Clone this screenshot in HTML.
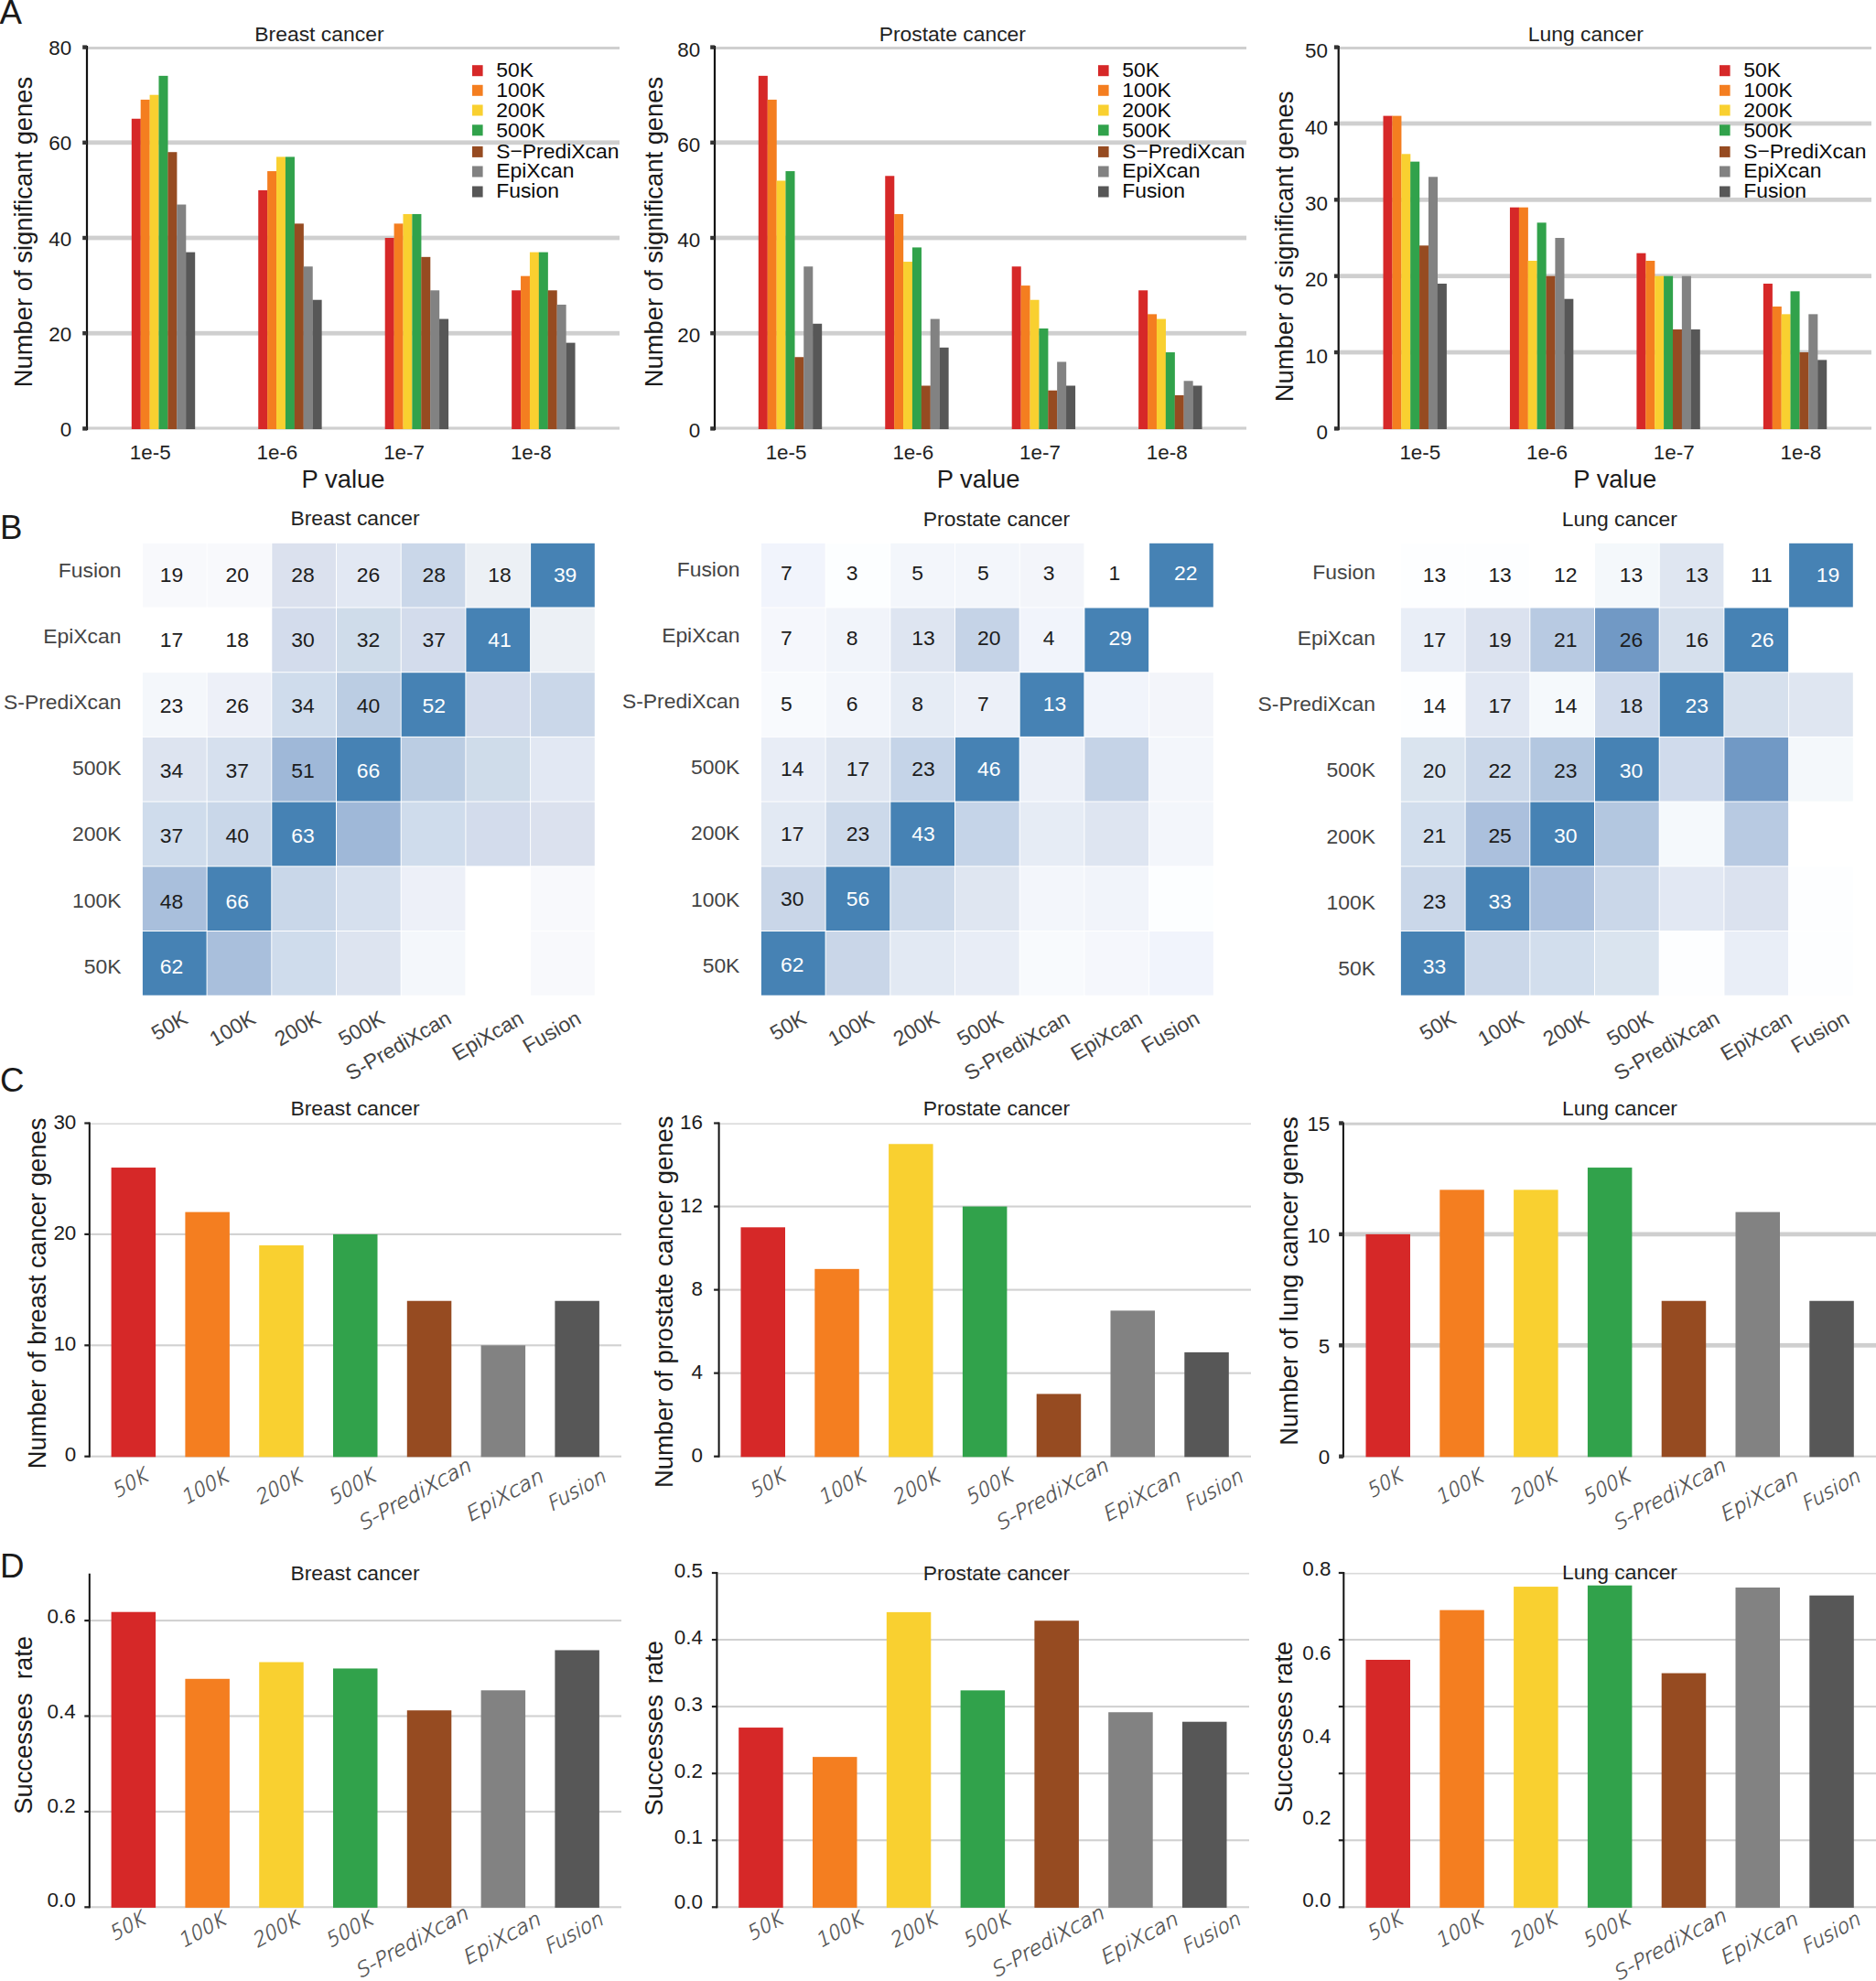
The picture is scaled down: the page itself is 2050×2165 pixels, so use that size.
<!DOCTYPE html>
<html lang="en"><head><meta charset="utf-8"><title>Figure</title>
<style>
html,body{margin:0;padding:0;background:#fff;}
body{width:2050px;height:2165px;overflow:hidden;}
svg{display:block;font-family:"Liberation Sans",sans-serif;}
</style></head><body>
<svg width="2050" height="2165" viewBox="0 0 2050 2165">
<rect x="0" y="0" width="2050" height="2165" fill="#ffffff"/>
<text x="-0.5" y="26.4" font-size="36.7" fill="#1a1a1a" text-anchor="start">A</text>
<text x="0" y="588.5" font-size="36.7" fill="#1a1a1a" text-anchor="start">B</text>
<text x="0" y="1193" font-size="36.7" fill="#1a1a1a" text-anchor="start">C</text>
<text x="0" y="1724" font-size="36.7" fill="#1a1a1a" text-anchor="start">D</text>
<rect x="95" y="466.4" width="582" height="3.2" fill="#cfcfcf"/>
<rect x="95" y="361.8" width="582" height="4.8" fill="#cfcfcf"/>
<rect x="95" y="257.6" width="582" height="4.8" fill="#cfcfcf"/>
<rect x="95" y="153.4" width="582" height="4.8" fill="#cfcfcf"/>
<rect x="95" y="51" width="582" height="3" fill="#cfcfcf"/>
<rect x="143.8" y="129.75" width="10.04" height="339.25" fill="#d62828"/>
<rect x="153.69" y="108.91" width="10.04" height="360.09" fill="#f47e20"/>
<rect x="163.58" y="103.7" width="10.04" height="365.3" fill="#f9d030"/>
<rect x="173.47" y="82.86" width="10.04" height="386.14" fill="#31a24b"/>
<rect x="183.36" y="166.22" width="10.04" height="302.78" fill="#964b21"/>
<rect x="193.25" y="223.53" width="10.04" height="245.47" fill="#828282"/>
<rect x="203.14" y="275.63" width="10.04" height="193.37" fill="#575757"/>
<rect x="282.25" y="207.9" width="10.04" height="261.1" fill="#d62828"/>
<rect x="292.14" y="187.06" width="10.04" height="281.94" fill="#f47e20"/>
<rect x="302.03" y="171.43" width="10.04" height="297.57" fill="#f9d030"/>
<rect x="311.92" y="171.43" width="10.04" height="297.57" fill="#31a24b"/>
<rect x="321.81" y="244.37" width="10.04" height="224.63" fill="#964b21"/>
<rect x="331.7" y="291.26" width="10.04" height="177.74" fill="#828282"/>
<rect x="341.59" y="327.73" width="10.04" height="141.27" fill="#575757"/>
<rect x="420.7" y="260" width="10.04" height="209" fill="#d62828"/>
<rect x="430.59" y="244.37" width="10.04" height="224.63" fill="#f47e20"/>
<rect x="440.48" y="233.95" width="10.04" height="235.05" fill="#f9d030"/>
<rect x="450.37" y="233.95" width="10.04" height="235.05" fill="#31a24b"/>
<rect x="460.26" y="280.84" width="10.04" height="188.16" fill="#964b21"/>
<rect x="470.15" y="317.31" width="10.04" height="151.69" fill="#828282"/>
<rect x="480.04" y="348.57" width="10.04" height="120.43" fill="#575757"/>
<rect x="559.15" y="317.31" width="10.04" height="151.69" fill="#d62828"/>
<rect x="569.04" y="301.68" width="10.04" height="167.32" fill="#f47e20"/>
<rect x="578.93" y="275.63" width="10.04" height="193.37" fill="#f9d030"/>
<rect x="588.82" y="275.63" width="10.04" height="193.37" fill="#31a24b"/>
<rect x="598.71" y="317.31" width="10.04" height="151.69" fill="#964b21"/>
<rect x="608.6" y="332.94" width="10.04" height="136.06" fill="#828282"/>
<rect x="618.49" y="374.62" width="10.04" height="94.38" fill="#575757"/>
<rect x="93.9" y="50" width="2.2" height="420.2" fill="#111"/>
<rect x="90.2" y="466.2" width="4.8" height="4.4" fill="#333"/>
<text x="78.2" y="477" font-size="22.4" fill="#1c1c1c" text-anchor="end">0</text>
<rect x="90.2" y="362" width="4.8" height="4.4" fill="#333"/>
<text x="78.2" y="372.8" font-size="22.4" fill="#1c1c1c" text-anchor="end">20</text>
<rect x="90.2" y="257.8" width="4.8" height="4.4" fill="#333"/>
<text x="78.2" y="268.6" font-size="22.4" fill="#1c1c1c" text-anchor="end">40</text>
<rect x="90.2" y="153.6" width="4.8" height="4.4" fill="#333"/>
<text x="78.2" y="164.4" font-size="22.4" fill="#1c1c1c" text-anchor="end">60</text>
<rect x="90.2" y="49.4" width="4.8" height="4.4" fill="#333"/>
<text x="78.2" y="60.2" font-size="22.4" fill="#1c1c1c" text-anchor="end">80</text>
<text x="164.2" y="501.9" font-size="22.4" fill="#222" text-anchor="middle">1e-5</text>
<text x="302.9" y="501.9" font-size="22.4" fill="#222" text-anchor="middle">1e-6</text>
<text x="441.6" y="501.9" font-size="22.4" fill="#222" text-anchor="middle">1e-7</text>
<text x="580.3" y="501.9" font-size="22.4" fill="#222" text-anchor="middle">1e-8</text>
<text x="375" y="532.8" font-size="27.4" fill="#1c1c1c" text-anchor="middle">P value</text>
<text x="0" y="0" transform="translate(34.5 253.5) rotate(-90)" font-size="27.4" fill="#1c1c1c" text-anchor="middle">Number of significant genes</text>
<text x="348.9" y="44.8" font-size="22.9" fill="#222" text-anchor="middle">Breast cancer</text>
<rect x="516" y="71.2" width="11.6" height="12" fill="#d62828"/>
<text x="542.2" y="84" font-size="22.9" fill="#0c0c0c" text-anchor="start">50K</text>
<rect x="516" y="92.8" width="11.6" height="12" fill="#f47e20"/>
<text x="542.2" y="106" font-size="22.9" fill="#0c0c0c" text-anchor="start">100K</text>
<rect x="516" y="114.5" width="11.6" height="12" fill="#f9d030"/>
<text x="542.2" y="127.9" font-size="22.9" fill="#0c0c0c" text-anchor="start">200K</text>
<rect x="516" y="136.3" width="11.6" height="12" fill="#31a24b"/>
<text x="542.2" y="149.5" font-size="22.9" fill="#0c0c0c" text-anchor="start">500K</text>
<rect x="516" y="159.9" width="11.6" height="12" fill="#964b21"/>
<text x="542.2" y="172.7" font-size="22.9" fill="#0c0c0c" text-anchor="start">S−PrediXcan</text>
<rect x="516" y="181.5" width="11.6" height="12" fill="#828282"/>
<text x="542.2" y="194.3" font-size="22.9" fill="#0c0c0c" text-anchor="start">EpiXcan</text>
<rect x="516" y="203.5" width="11.6" height="12" fill="#575757"/>
<text x="542.2" y="215.9" font-size="22.9" fill="#0c0c0c" text-anchor="start">Fusion</text>
<rect x="781" y="466.4" width="581" height="3.2" fill="#cfcfcf"/>
<rect x="781" y="361.8" width="581" height="4.8" fill="#cfcfcf"/>
<rect x="781" y="257.6" width="581" height="4.8" fill="#cfcfcf"/>
<rect x="781" y="153.4" width="581" height="4.8" fill="#cfcfcf"/>
<rect x="781" y="51" width="581" height="3" fill="#cfcfcf"/>
<rect x="828.8" y="82.86" width="10.04" height="386.14" fill="#d62828"/>
<rect x="838.69" y="108.91" width="10.04" height="360.09" fill="#f47e20"/>
<rect x="848.58" y="197.48" width="10.04" height="271.52" fill="#f9d030"/>
<rect x="858.47" y="187.06" width="10.04" height="281.94" fill="#31a24b"/>
<rect x="868.36" y="390.25" width="10.04" height="78.75" fill="#964b21"/>
<rect x="878.25" y="291.26" width="10.04" height="177.74" fill="#828282"/>
<rect x="888.14" y="353.78" width="10.04" height="115.22" fill="#575757"/>
<rect x="967.25" y="192.27" width="10.04" height="276.73" fill="#d62828"/>
<rect x="977.14" y="233.95" width="10.04" height="235.05" fill="#f47e20"/>
<rect x="987.03" y="286.05" width="10.04" height="182.95" fill="#f9d030"/>
<rect x="996.92" y="270.42" width="10.04" height="198.58" fill="#31a24b"/>
<rect x="1006.81" y="421.51" width="10.04" height="47.49" fill="#964b21"/>
<rect x="1016.7" y="348.57" width="10.04" height="120.43" fill="#828282"/>
<rect x="1026.59" y="379.83" width="10.04" height="89.17" fill="#575757"/>
<rect x="1105.7" y="291.26" width="10.04" height="177.74" fill="#d62828"/>
<rect x="1115.59" y="312.1" width="10.04" height="156.9" fill="#f47e20"/>
<rect x="1125.48" y="327.73" width="10.04" height="141.27" fill="#f9d030"/>
<rect x="1135.37" y="358.99" width="10.04" height="110.01" fill="#31a24b"/>
<rect x="1145.26" y="426.72" width="10.04" height="42.28" fill="#964b21"/>
<rect x="1155.15" y="395.46" width="10.04" height="73.54" fill="#828282"/>
<rect x="1165.04" y="421.51" width="10.04" height="47.49" fill="#575757"/>
<rect x="1244.15" y="317.31" width="10.04" height="151.69" fill="#d62828"/>
<rect x="1254.04" y="343.36" width="10.04" height="125.64" fill="#f47e20"/>
<rect x="1263.93" y="348.57" width="10.04" height="120.43" fill="#f9d030"/>
<rect x="1273.82" y="385.04" width="10.04" height="83.96" fill="#31a24b"/>
<rect x="1283.71" y="431.93" width="10.04" height="37.07" fill="#964b21"/>
<rect x="1293.6" y="416.3" width="10.04" height="52.7" fill="#828282"/>
<rect x="1303.49" y="421.51" width="10.04" height="47.49" fill="#575757"/>
<rect x="779.9" y="50" width="2.2" height="420.2" fill="#111"/>
<rect x="776.2" y="466.2" width="4.8" height="4.4" fill="#333"/>
<text x="765.2" y="478.4" font-size="22.4" fill="#1c1c1c" text-anchor="end">0</text>
<rect x="776.2" y="362" width="4.8" height="4.4" fill="#333"/>
<text x="765.2" y="374.2" font-size="22.4" fill="#1c1c1c" text-anchor="end">20</text>
<rect x="776.2" y="257.8" width="4.8" height="4.4" fill="#333"/>
<text x="765.2" y="270" font-size="22.4" fill="#1c1c1c" text-anchor="end">40</text>
<rect x="776.2" y="153.6" width="4.8" height="4.4" fill="#333"/>
<text x="765.2" y="165.8" font-size="22.4" fill="#1c1c1c" text-anchor="end">60</text>
<rect x="776.2" y="49.4" width="4.8" height="4.4" fill="#333"/>
<text x="765.2" y="61.6" font-size="22.4" fill="#1c1c1c" text-anchor="end">80</text>
<text x="859.1" y="501.9" font-size="22.4" fill="#222" text-anchor="middle">1e-5</text>
<text x="997.8" y="501.9" font-size="22.4" fill="#222" text-anchor="middle">1e-6</text>
<text x="1136.5" y="501.9" font-size="22.4" fill="#222" text-anchor="middle">1e-7</text>
<text x="1275.2" y="501.9" font-size="22.4" fill="#222" text-anchor="middle">1e-8</text>
<text x="1069.1" y="532.8" font-size="27.4" fill="#1c1c1c" text-anchor="middle">P value</text>
<text x="0" y="0" transform="translate(724 253.5) rotate(-90)" font-size="27.4" fill="#1c1c1c" text-anchor="middle">Number of significant genes</text>
<text x="1040.8" y="44.8" font-size="22.9" fill="#222" text-anchor="middle">Prostate cancer</text>
<rect x="1200" y="71.2" width="11.6" height="12" fill="#d62828"/>
<text x="1226.2" y="84" font-size="22.9" fill="#0c0c0c" text-anchor="start">50K</text>
<rect x="1200" y="92.8" width="11.6" height="12" fill="#f47e20"/>
<text x="1226.2" y="106" font-size="22.9" fill="#0c0c0c" text-anchor="start">100K</text>
<rect x="1200" y="114.5" width="11.6" height="12" fill="#f9d030"/>
<text x="1226.2" y="127.9" font-size="22.9" fill="#0c0c0c" text-anchor="start">200K</text>
<rect x="1200" y="136.3" width="11.6" height="12" fill="#31a24b"/>
<text x="1226.2" y="149.5" font-size="22.9" fill="#0c0c0c" text-anchor="start">500K</text>
<rect x="1200" y="159.9" width="11.6" height="12" fill="#964b21"/>
<text x="1226.2" y="172.7" font-size="22.9" fill="#0c0c0c" text-anchor="start">S−PrediXcan</text>
<rect x="1200" y="181.5" width="11.6" height="12" fill="#828282"/>
<text x="1226.2" y="194.3" font-size="22.9" fill="#0c0c0c" text-anchor="start">EpiXcan</text>
<rect x="1200" y="203.5" width="11.6" height="12" fill="#575757"/>
<text x="1226.2" y="215.9" font-size="22.9" fill="#0c0c0c" text-anchor="start">Fusion</text>
<rect x="1462.7" y="466.4" width="582.3" height="3.2" fill="#cfcfcf"/>
<rect x="1462.7" y="382.64" width="582.3" height="4.8" fill="#cfcfcf"/>
<rect x="1462.7" y="299.28" width="582.3" height="4.8" fill="#cfcfcf"/>
<rect x="1462.7" y="215.92" width="582.3" height="4.8" fill="#cfcfcf"/>
<rect x="1462.7" y="132.56" width="582.3" height="4.8" fill="#cfcfcf"/>
<rect x="1462.7" y="51" width="582.3" height="3" fill="#cfcfcf"/>
<rect x="1511.5" y="126.62" width="10.04" height="342.38" fill="#d62828"/>
<rect x="1521.39" y="126.62" width="10.04" height="342.38" fill="#f47e20"/>
<rect x="1531.28" y="168.3" width="10.04" height="300.7" fill="#f9d030"/>
<rect x="1541.17" y="176.64" width="10.04" height="292.36" fill="#31a24b"/>
<rect x="1551.06" y="268.34" width="10.04" height="200.66" fill="#964b21"/>
<rect x="1560.95" y="193.31" width="10.04" height="275.69" fill="#828282"/>
<rect x="1570.84" y="310.02" width="10.04" height="158.98" fill="#575757"/>
<rect x="1649.95" y="226.66" width="10.04" height="242.34" fill="#d62828"/>
<rect x="1659.84" y="226.66" width="10.04" height="242.34" fill="#f47e20"/>
<rect x="1669.73" y="285.01" width="10.04" height="183.99" fill="#f9d030"/>
<rect x="1679.62" y="243.33" width="10.04" height="225.67" fill="#31a24b"/>
<rect x="1689.51" y="301.68" width="10.04" height="167.32" fill="#964b21"/>
<rect x="1699.4" y="260" width="10.04" height="209" fill="#828282"/>
<rect x="1709.29" y="326.69" width="10.04" height="142.31" fill="#575757"/>
<rect x="1788.4" y="276.67" width="10.04" height="192.33" fill="#d62828"/>
<rect x="1798.29" y="285.01" width="10.04" height="183.99" fill="#f47e20"/>
<rect x="1808.18" y="301.68" width="10.04" height="167.32" fill="#f9d030"/>
<rect x="1818.07" y="301.68" width="10.04" height="167.32" fill="#31a24b"/>
<rect x="1827.96" y="360.03" width="10.04" height="108.97" fill="#964b21"/>
<rect x="1837.85" y="301.68" width="10.04" height="167.32" fill="#828282"/>
<rect x="1847.74" y="360.03" width="10.04" height="108.97" fill="#575757"/>
<rect x="1926.85" y="310.02" width="10.04" height="158.98" fill="#d62828"/>
<rect x="1936.74" y="335.02" width="10.04" height="133.98" fill="#f47e20"/>
<rect x="1946.63" y="343.36" width="10.04" height="125.64" fill="#f9d030"/>
<rect x="1956.52" y="318.35" width="10.04" height="150.65" fill="#31a24b"/>
<rect x="1966.41" y="385.04" width="10.04" height="83.96" fill="#964b21"/>
<rect x="1976.3" y="343.36" width="10.04" height="125.64" fill="#828282"/>
<rect x="1986.19" y="393.38" width="10.04" height="75.62" fill="#575757"/>
<rect x="1461.6" y="50" width="2.2" height="420.2" fill="#111"/>
<rect x="1457.9" y="466.2" width="4.8" height="4.4" fill="#333"/>
<text x="1451" y="480.2" font-size="22.4" fill="#1c1c1c" text-anchor="end">0</text>
<rect x="1457.9" y="382.84" width="4.8" height="4.4" fill="#333"/>
<text x="1451" y="396.84" font-size="22.4" fill="#1c1c1c" text-anchor="end">10</text>
<rect x="1457.9" y="299.48" width="4.8" height="4.4" fill="#333"/>
<text x="1451" y="313.48" font-size="22.4" fill="#1c1c1c" text-anchor="end">20</text>
<rect x="1457.9" y="216.12" width="4.8" height="4.4" fill="#333"/>
<text x="1451" y="230.12" font-size="22.4" fill="#1c1c1c" text-anchor="end">30</text>
<rect x="1457.9" y="132.76" width="4.8" height="4.4" fill="#333"/>
<text x="1451" y="146.76" font-size="22.4" fill="#1c1c1c" text-anchor="end">40</text>
<rect x="1457.9" y="49.4" width="4.8" height="4.4" fill="#333"/>
<text x="1451" y="63.4" font-size="22.4" fill="#1c1c1c" text-anchor="end">50</text>
<text x="1551.8" y="501.9" font-size="22.4" fill="#222" text-anchor="middle">1e-5</text>
<text x="1690.5" y="501.9" font-size="22.4" fill="#222" text-anchor="middle">1e-6</text>
<text x="1829.2" y="501.9" font-size="22.4" fill="#222" text-anchor="middle">1e-7</text>
<text x="1967.9" y="501.9" font-size="22.4" fill="#222" text-anchor="middle">1e-8</text>
<text x="1764.7" y="532.8" font-size="27.4" fill="#1c1c1c" text-anchor="middle">P value</text>
<text x="0" y="0" transform="translate(1413.4 269.4) rotate(-90)" font-size="27.4" fill="#1c1c1c" text-anchor="middle">Number of significant genes</text>
<text x="1732.8" y="44.8" font-size="22.9" fill="#222" text-anchor="middle">Lung cancer</text>
<rect x="1879" y="71.2" width="11.6" height="12" fill="#d62828"/>
<text x="1905.2" y="84" font-size="22.9" fill="#0c0c0c" text-anchor="start">50K</text>
<rect x="1879" y="92.8" width="11.6" height="12" fill="#f47e20"/>
<text x="1905.2" y="106" font-size="22.9" fill="#0c0c0c" text-anchor="start">100K</text>
<rect x="1879" y="114.5" width="11.6" height="12" fill="#f9d030"/>
<text x="1905.2" y="127.9" font-size="22.9" fill="#0c0c0c" text-anchor="start">200K</text>
<rect x="1879" y="136.3" width="11.6" height="12" fill="#31a24b"/>
<text x="1905.2" y="149.5" font-size="22.9" fill="#0c0c0c" text-anchor="start">500K</text>
<rect x="1879" y="159.9" width="11.6" height="12" fill="#964b21"/>
<text x="1905.2" y="172.7" font-size="22.9" fill="#0c0c0c" text-anchor="start">S−PrediXcan</text>
<rect x="1879" y="181.5" width="11.6" height="12" fill="#828282"/>
<text x="1905.2" y="194.3" font-size="22.9" fill="#0c0c0c" text-anchor="start">EpiXcan</text>
<rect x="1879" y="203.5" width="11.6" height="12" fill="#575757"/>
<text x="1905.2" y="215.9" font-size="22.9" fill="#0c0c0c" text-anchor="start">Fusion</text>
<rect x="155.9" y="1018" width="69.7" height="69.7" fill="#4682b4"/>
<rect x="226.6" y="1018" width="69.7" height="69.7" fill="#a9bfdc"/>
<rect x="297.3" y="1018" width="69.7" height="69.7" fill="#cfdcec"/>
<rect x="368" y="1018" width="69.7" height="69.7" fill="#dde4f0"/>
<rect x="438.7" y="1018" width="69.7" height="69.7" fill="#f4f7fb"/>
<rect x="509.4" y="1018" width="69.7" height="69.7" fill="#ffffff"/>
<rect x="580.1" y="1018" width="69.7" height="69.7" fill="#f8f9fc"/>
<rect x="155.9" y="947.3" width="69.7" height="69.7" fill="#a9bfdc"/>
<rect x="226.6" y="947.3" width="69.7" height="69.7" fill="#4682b4"/>
<rect x="297.3" y="947.3" width="69.7" height="69.7" fill="#c9d7e9"/>
<rect x="368" y="947.3" width="69.7" height="69.7" fill="#d6e0ee"/>
<rect x="438.7" y="947.3" width="69.7" height="69.7" fill="#edf0f8"/>
<rect x="509.4" y="947.3" width="69.7" height="69.7" fill="#ffffff"/>
<rect x="580.1" y="947.3" width="69.7" height="69.7" fill="#f8f9fc"/>
<rect x="155.9" y="876.6" width="69.7" height="69.7" fill="#cfdcec"/>
<rect x="226.6" y="876.6" width="69.7" height="69.7" fill="#c9d7e9"/>
<rect x="297.3" y="876.6" width="69.7" height="69.7" fill="#4682b4"/>
<rect x="368" y="876.6" width="69.7" height="69.7" fill="#9fb8d8"/>
<rect x="438.7" y="876.6" width="69.7" height="69.7" fill="#cfdcec"/>
<rect x="509.4" y="876.6" width="69.7" height="69.7" fill="#d3dcec"/>
<rect x="580.1" y="876.6" width="69.7" height="69.7" fill="#dbe1ee"/>
<rect x="155.9" y="805.9" width="69.7" height="69.7" fill="#dde4f0"/>
<rect x="226.6" y="805.9" width="69.7" height="69.7" fill="#d6e0ee"/>
<rect x="297.3" y="805.9" width="69.7" height="69.7" fill="#9fb8d8"/>
<rect x="368" y="805.9" width="69.7" height="69.7" fill="#4682b4"/>
<rect x="438.7" y="805.9" width="69.7" height="69.7" fill="#bbcde3"/>
<rect x="509.4" y="805.9" width="69.7" height="69.7" fill="#cfdcea"/>
<rect x="580.1" y="805.9" width="69.7" height="69.7" fill="#e2e8f3"/>
<rect x="155.9" y="735.2" width="69.7" height="69.7" fill="#f4f7fb"/>
<rect x="226.6" y="735.2" width="69.7" height="69.7" fill="#edf0f8"/>
<rect x="297.3" y="735.2" width="69.7" height="69.7" fill="#cfdcec"/>
<rect x="368" y="735.2" width="69.7" height="69.7" fill="#bbcde3"/>
<rect x="438.7" y="735.2" width="69.7" height="69.7" fill="#4682b4"/>
<rect x="509.4" y="735.2" width="69.7" height="69.7" fill="#d3dcec"/>
<rect x="580.1" y="735.2" width="69.7" height="69.7" fill="#cad7e9"/>
<rect x="155.9" y="664.5" width="69.7" height="69.7" fill="#ffffff"/>
<rect x="226.6" y="664.5" width="69.7" height="69.7" fill="#ffffff"/>
<rect x="297.3" y="664.5" width="69.7" height="69.7" fill="#d3dcec"/>
<rect x="368" y="664.5" width="69.7" height="69.7" fill="#cfdcea"/>
<rect x="438.7" y="664.5" width="69.7" height="69.7" fill="#d3dcec"/>
<rect x="509.4" y="664.5" width="69.7" height="69.7" fill="#4682b4"/>
<rect x="580.1" y="664.5" width="69.7" height="69.7" fill="#ecf0f5"/>
<rect x="155.9" y="593.8" width="69.7" height="69.7" fill="#f8f9fc"/>
<rect x="226.6" y="593.8" width="69.7" height="69.7" fill="#f8f9fc"/>
<rect x="297.3" y="593.8" width="69.7" height="69.7" fill="#dbe1ee"/>
<rect x="368" y="593.8" width="69.7" height="69.7" fill="#e2e8f3"/>
<rect x="438.7" y="593.8" width="69.7" height="69.7" fill="#cad7e9"/>
<rect x="509.4" y="593.8" width="69.7" height="69.7" fill="#ecf0f5"/>
<rect x="580.1" y="593.8" width="69.7" height="69.7" fill="#4682b4"/>
<text x="174.8" y="1063.9" font-size="22.9" fill="#ffffff" text-anchor="start">62</text>
<text x="174.8" y="992.6" font-size="22.9" fill="#1c1c1c" text-anchor="start">48</text>
<text x="246.48" y="992.6" font-size="22.9" fill="#ffffff" text-anchor="start">66</text>
<text x="174.8" y="921.3" font-size="22.9" fill="#1c1c1c" text-anchor="start">37</text>
<text x="246.48" y="921.3" font-size="22.9" fill="#1c1c1c" text-anchor="start">40</text>
<text x="318.16" y="921.3" font-size="22.9" fill="#ffffff" text-anchor="start">63</text>
<text x="174.8" y="850" font-size="22.9" fill="#1c1c1c" text-anchor="start">34</text>
<text x="246.48" y="850" font-size="22.9" fill="#1c1c1c" text-anchor="start">37</text>
<text x="318.16" y="850" font-size="22.9" fill="#1c1c1c" text-anchor="start">51</text>
<text x="389.84" y="850" font-size="22.9" fill="#ffffff" text-anchor="start">66</text>
<text x="174.8" y="778.7" font-size="22.9" fill="#1c1c1c" text-anchor="start">23</text>
<text x="246.48" y="778.7" font-size="22.9" fill="#1c1c1c" text-anchor="start">26</text>
<text x="318.16" y="778.7" font-size="22.9" fill="#1c1c1c" text-anchor="start">34</text>
<text x="389.84" y="778.7" font-size="22.9" fill="#1c1c1c" text-anchor="start">40</text>
<text x="461.52" y="778.7" font-size="22.9" fill="#ffffff" text-anchor="start">52</text>
<text x="174.8" y="707.4" font-size="22.9" fill="#1c1c1c" text-anchor="start">17</text>
<text x="246.48" y="707.4" font-size="22.9" fill="#1c1c1c" text-anchor="start">18</text>
<text x="318.16" y="707.4" font-size="22.9" fill="#1c1c1c" text-anchor="start">30</text>
<text x="389.84" y="707.4" font-size="22.9" fill="#1c1c1c" text-anchor="start">32</text>
<text x="461.52" y="707.4" font-size="22.9" fill="#1c1c1c" text-anchor="start">37</text>
<text x="533.2" y="707.4" font-size="22.9" fill="#ffffff" text-anchor="start">41</text>
<text x="174.8" y="636.1" font-size="22.9" fill="#1c1c1c" text-anchor="start">19</text>
<text x="246.48" y="636.1" font-size="22.9" fill="#1c1c1c" text-anchor="start">20</text>
<text x="318.16" y="636.1" font-size="22.9" fill="#1c1c1c" text-anchor="start">28</text>
<text x="389.84" y="636.1" font-size="22.9" fill="#1c1c1c" text-anchor="start">26</text>
<text x="461.52" y="636.1" font-size="22.9" fill="#1c1c1c" text-anchor="start">28</text>
<text x="533.2" y="636.1" font-size="22.9" fill="#1c1c1c" text-anchor="start">18</text>
<text x="604.88" y="636.1" font-size="22.9" fill="#ffffff" text-anchor="start">39</text>
<text x="132.5" y="1063.8" font-size="22.9" fill="#444444" text-anchor="end">50K</text>
<text x="132.5" y="991.6" font-size="22.9" fill="#444444" text-anchor="end">100K</text>
<text x="132.5" y="919.4" font-size="22.9" fill="#444444" text-anchor="end">200K</text>
<text x="132.5" y="847.2" font-size="22.9" fill="#444444" text-anchor="end">500K</text>
<text x="132.5" y="775" font-size="22.9" fill="#444444" text-anchor="end">S-PrediXcan</text>
<text x="132.5" y="702.8" font-size="22.9" fill="#444444" text-anchor="end">EpiXcan</text>
<text x="132.5" y="630.6" font-size="22.9" fill="#444444" text-anchor="end">Fusion</text>
<text x="0" y="0" transform="translate(206.65 1117.3) rotate(-30)" font-size="22.9" fill="#444444" text-anchor="end">50K</text>
<text x="0" y="0" transform="translate(281.05 1117.3) rotate(-30)" font-size="22.9" fill="#444444" text-anchor="end">100K</text>
<text x="0" y="0" transform="translate(352.25 1117.3) rotate(-30)" font-size="22.9" fill="#444444" text-anchor="end">200K</text>
<text x="0" y="0" transform="translate(421.95 1117.3) rotate(-30)" font-size="22.9" fill="#444444" text-anchor="end">500K</text>
<text x="0" y="0" transform="translate(494.75 1117.3) rotate(-30)" font-size="22.9" fill="#444444" text-anchor="end">S-PrediXcan</text>
<text x="0" y="0" transform="translate(573.75 1117.3) rotate(-30)" font-size="22.9" fill="#444444" text-anchor="end">EpiXcan</text>
<text x="0" y="0" transform="translate(636.45 1117.3) rotate(-30)" font-size="22.9" fill="#444444" text-anchor="end">Fusion</text>
<text x="388" y="573.8" font-size="22.9" fill="#222" text-anchor="middle">Breast cancer</text>
<rect x="831.9" y="1018" width="69.7" height="69.7" fill="#4682b4"/>
<rect x="902.6" y="1018" width="69.7" height="69.7" fill="#c9d6e8"/>
<rect x="973.3" y="1018" width="69.7" height="69.7" fill="#e2e9f3"/>
<rect x="1044" y="1018" width="69.7" height="69.7" fill="#e8edf6"/>
<rect x="1114.7" y="1018" width="69.7" height="69.7" fill="#f8fafd"/>
<rect x="1185.4" y="1018" width="69.7" height="69.7" fill="#f5f7fc"/>
<rect x="1256.1" y="1018" width="69.7" height="69.7" fill="#f1f4fc"/>
<rect x="831.9" y="947.3" width="69.7" height="69.7" fill="#c9d6e8"/>
<rect x="902.6" y="947.3" width="69.7" height="69.7" fill="#4682b4"/>
<rect x="973.3" y="947.3" width="69.7" height="69.7" fill="#ccd9ea"/>
<rect x="1044" y="947.3" width="69.7" height="69.7" fill="#dfe6f1"/>
<rect x="1114.7" y="947.3" width="69.7" height="69.7" fill="#f3f6fb"/>
<rect x="1185.4" y="947.3" width="69.7" height="69.7" fill="#f1f4fa"/>
<rect x="1256.1" y="947.3" width="69.7" height="69.7" fill="#fcfeff"/>
<rect x="831.9" y="876.6" width="69.7" height="69.7" fill="#e2e9f3"/>
<rect x="902.6" y="876.6" width="69.7" height="69.7" fill="#ccd9ea"/>
<rect x="973.3" y="876.6" width="69.7" height="69.7" fill="#4682b4"/>
<rect x="1044" y="876.6" width="69.7" height="69.7" fill="#c5d4e8"/>
<rect x="1114.7" y="876.6" width="69.7" height="69.7" fill="#e6ecf5"/>
<rect x="1185.4" y="876.6" width="69.7" height="69.7" fill="#dee5f1"/>
<rect x="1256.1" y="876.6" width="69.7" height="69.7" fill="#f3f6fb"/>
<rect x="831.9" y="805.9" width="69.7" height="69.7" fill="#e8edf6"/>
<rect x="902.6" y="805.9" width="69.7" height="69.7" fill="#dfe6f1"/>
<rect x="973.3" y="805.9" width="69.7" height="69.7" fill="#c5d4e8"/>
<rect x="1044" y="805.9" width="69.7" height="69.7" fill="#4682b4"/>
<rect x="1114.7" y="805.9" width="69.7" height="69.7" fill="#ecf0f8"/>
<rect x="1185.4" y="805.9" width="69.7" height="69.7" fill="#c5d3e7"/>
<rect x="1256.1" y="805.9" width="69.7" height="69.7" fill="#f3f6fb"/>
<rect x="831.9" y="735.2" width="69.7" height="69.7" fill="#f8fafd"/>
<rect x="902.6" y="735.2" width="69.7" height="69.7" fill="#f3f6fb"/>
<rect x="973.3" y="735.2" width="69.7" height="69.7" fill="#e6ecf5"/>
<rect x="1044" y="735.2" width="69.7" height="69.7" fill="#ecf0f8"/>
<rect x="1114.7" y="735.2" width="69.7" height="69.7" fill="#4682b4"/>
<rect x="1185.4" y="735.2" width="69.7" height="69.7" fill="#f1f4fb"/>
<rect x="1256.1" y="735.2" width="69.7" height="69.7" fill="#f3f5fa"/>
<rect x="831.9" y="664.5" width="69.7" height="69.7" fill="#f5f7fc"/>
<rect x="902.6" y="664.5" width="69.7" height="69.7" fill="#f1f4fa"/>
<rect x="973.3" y="664.5" width="69.7" height="69.7" fill="#dee5f1"/>
<rect x="1044" y="664.5" width="69.7" height="69.7" fill="#c5d3e7"/>
<rect x="1114.7" y="664.5" width="69.7" height="69.7" fill="#f1f4fb"/>
<rect x="1185.4" y="664.5" width="69.7" height="69.7" fill="#4682b4"/>
<rect x="1256.1" y="664.5" width="69.7" height="69.7" fill="#ffffff"/>
<rect x="831.9" y="593.8" width="69.7" height="69.7" fill="#f1f4fc"/>
<rect x="902.6" y="593.8" width="69.7" height="69.7" fill="#fcfeff"/>
<rect x="973.3" y="593.8" width="69.7" height="69.7" fill="#f3f6fb"/>
<rect x="1044" y="593.8" width="69.7" height="69.7" fill="#f3f6fb"/>
<rect x="1114.7" y="593.8" width="69.7" height="69.7" fill="#f3f5fa"/>
<rect x="1185.4" y="593.8" width="69.7" height="69.7" fill="#ffffff"/>
<rect x="1256.1" y="593.8" width="69.7" height="69.7" fill="#4682b4"/>
<text x="853" y="1061.7" font-size="22.9" fill="#ffffff" text-anchor="start">62</text>
<text x="853" y="990.4" font-size="22.9" fill="#1c1c1c" text-anchor="start">30</text>
<text x="924.68" y="990.4" font-size="22.9" fill="#ffffff" text-anchor="start">56</text>
<text x="853" y="919.1" font-size="22.9" fill="#1c1c1c" text-anchor="start">17</text>
<text x="924.68" y="919.1" font-size="22.9" fill="#1c1c1c" text-anchor="start">23</text>
<text x="996.36" y="919.1" font-size="22.9" fill="#ffffff" text-anchor="start">43</text>
<text x="853" y="847.8" font-size="22.9" fill="#1c1c1c" text-anchor="start">14</text>
<text x="924.68" y="847.8" font-size="22.9" fill="#1c1c1c" text-anchor="start">17</text>
<text x="996.36" y="847.8" font-size="22.9" fill="#1c1c1c" text-anchor="start">23</text>
<text x="1068.04" y="847.8" font-size="22.9" fill="#ffffff" text-anchor="start">46</text>
<text x="853" y="776.5" font-size="22.9" fill="#1c1c1c" text-anchor="start">5</text>
<text x="924.68" y="776.5" font-size="22.9" fill="#1c1c1c" text-anchor="start">6</text>
<text x="996.36" y="776.5" font-size="22.9" fill="#1c1c1c" text-anchor="start">8</text>
<text x="1068.04" y="776.5" font-size="22.9" fill="#1c1c1c" text-anchor="start">7</text>
<text x="1139.72" y="776.5" font-size="22.9" fill="#ffffff" text-anchor="start">13</text>
<text x="853" y="705.2" font-size="22.9" fill="#1c1c1c" text-anchor="start">7</text>
<text x="924.68" y="705.2" font-size="22.9" fill="#1c1c1c" text-anchor="start">8</text>
<text x="996.36" y="705.2" font-size="22.9" fill="#1c1c1c" text-anchor="start">13</text>
<text x="1068.04" y="705.2" font-size="22.9" fill="#1c1c1c" text-anchor="start">20</text>
<text x="1139.72" y="705.2" font-size="22.9" fill="#1c1c1c" text-anchor="start">4</text>
<text x="1211.4" y="705.2" font-size="22.9" fill="#ffffff" text-anchor="start">29</text>
<text x="853" y="633.9" font-size="22.9" fill="#1c1c1c" text-anchor="start">7</text>
<text x="924.68" y="633.9" font-size="22.9" fill="#1c1c1c" text-anchor="start">3</text>
<text x="996.36" y="633.9" font-size="22.9" fill="#1c1c1c" text-anchor="start">5</text>
<text x="1068.04" y="633.9" font-size="22.9" fill="#1c1c1c" text-anchor="start">5</text>
<text x="1139.72" y="633.9" font-size="22.9" fill="#1c1c1c" text-anchor="start">3</text>
<text x="1211.4" y="633.9" font-size="22.9" fill="#1c1c1c" text-anchor="start">1</text>
<text x="1283.08" y="633.9" font-size="22.9" fill="#ffffff" text-anchor="start">22</text>
<text x="808.4" y="1062.8" font-size="22.9" fill="#444444" text-anchor="end">50K</text>
<text x="808.4" y="990.6" font-size="22.9" fill="#444444" text-anchor="end">100K</text>
<text x="808.4" y="918.4" font-size="22.9" fill="#444444" text-anchor="end">200K</text>
<text x="808.4" y="846.2" font-size="22.9" fill="#444444" text-anchor="end">500K</text>
<text x="808.4" y="774" font-size="22.9" fill="#444444" text-anchor="end">S-PrediXcan</text>
<text x="808.4" y="701.8" font-size="22.9" fill="#444444" text-anchor="end">EpiXcan</text>
<text x="808.4" y="629.6" font-size="22.9" fill="#444444" text-anchor="end">Fusion</text>
<text x="0" y="0" transform="translate(882.65 1117.3) rotate(-30)" font-size="22.9" fill="#444444" text-anchor="end">50K</text>
<text x="0" y="0" transform="translate(957.05 1117.3) rotate(-30)" font-size="22.9" fill="#444444" text-anchor="end">100K</text>
<text x="0" y="0" transform="translate(1028.25 1117.3) rotate(-30)" font-size="22.9" fill="#444444" text-anchor="end">200K</text>
<text x="0" y="0" transform="translate(1097.95 1117.3) rotate(-30)" font-size="22.9" fill="#444444" text-anchor="end">500K</text>
<text x="0" y="0" transform="translate(1170.75 1117.3) rotate(-30)" font-size="22.9" fill="#444444" text-anchor="end">S-PrediXcan</text>
<text x="0" y="0" transform="translate(1249.75 1117.3) rotate(-30)" font-size="22.9" fill="#444444" text-anchor="end">EpiXcan</text>
<text x="0" y="0" transform="translate(1312.45 1117.3) rotate(-30)" font-size="22.9" fill="#444444" text-anchor="end">Fusion</text>
<text x="1089" y="574.8" font-size="22.9" fill="#222" text-anchor="middle">Prostate cancer</text>
<rect x="1530.9" y="1018" width="69.7" height="69.7" fill="#4682b4"/>
<rect x="1601.6" y="1018" width="69.7" height="69.7" fill="#cad7e9"/>
<rect x="1672.3" y="1018" width="69.7" height="69.7" fill="#d2deed"/>
<rect x="1743" y="1018" width="69.7" height="69.7" fill="#dae4ef"/>
<rect x="1813.7" y="1018" width="69.7" height="69.7" fill="#fdfeff"/>
<rect x="1884.4" y="1018" width="69.7" height="69.7" fill="#e9eef7"/>
<rect x="1955.1" y="1018" width="69.7" height="69.7" fill="#fdfeff"/>
<rect x="1530.9" y="947.3" width="69.7" height="69.7" fill="#cad7e9"/>
<rect x="1601.6" y="947.3" width="69.7" height="69.7" fill="#4682b4"/>
<rect x="1672.3" y="947.3" width="69.7" height="69.7" fill="#abc0dd"/>
<rect x="1743" y="947.3" width="69.7" height="69.7" fill="#cad7e9"/>
<rect x="1813.7" y="947.3" width="69.7" height="69.7" fill="#e2e8f3"/>
<rect x="1884.4" y="947.3" width="69.7" height="69.7" fill="#dbe2ef"/>
<rect x="1955.1" y="947.3" width="69.7" height="69.7" fill="#fdfeff"/>
<rect x="1530.9" y="876.6" width="69.7" height="69.7" fill="#d2deed"/>
<rect x="1601.6" y="876.6" width="69.7" height="69.7" fill="#abc0dd"/>
<rect x="1672.3" y="876.6" width="69.7" height="69.7" fill="#4682b4"/>
<rect x="1743" y="876.6" width="69.7" height="69.7" fill="#b3c7e0"/>
<rect x="1813.7" y="876.6" width="69.7" height="69.7" fill="#f5f9fc"/>
<rect x="1884.4" y="876.6" width="69.7" height="69.7" fill="#b8cae2"/>
<rect x="1955.1" y="876.6" width="69.7" height="69.7" fill="#ffffff"/>
<rect x="1530.9" y="805.9" width="69.7" height="69.7" fill="#dae4ef"/>
<rect x="1601.6" y="805.9" width="69.7" height="69.7" fill="#cad7e9"/>
<rect x="1672.3" y="805.9" width="69.7" height="69.7" fill="#b3c7e0"/>
<rect x="1743" y="805.9" width="69.7" height="69.7" fill="#4682b4"/>
<rect x="1813.7" y="805.9" width="69.7" height="69.7" fill="#d0dbec"/>
<rect x="1884.4" y="805.9" width="69.7" height="69.7" fill="#7199c5"/>
<rect x="1955.1" y="805.9" width="69.7" height="69.7" fill="#f4f8fb"/>
<rect x="1530.9" y="735.2" width="69.7" height="69.7" fill="#fdfeff"/>
<rect x="1601.6" y="735.2" width="69.7" height="69.7" fill="#e2e8f3"/>
<rect x="1672.3" y="735.2" width="69.7" height="69.7" fill="#f5f9fc"/>
<rect x="1743" y="735.2" width="69.7" height="69.7" fill="#d0dbec"/>
<rect x="1813.7" y="735.2" width="69.7" height="69.7" fill="#4682b4"/>
<rect x="1884.4" y="735.2" width="69.7" height="69.7" fill="#d6e0ed"/>
<rect x="1955.1" y="735.2" width="69.7" height="69.7" fill="#dfe6f1"/>
<rect x="1530.9" y="664.5" width="69.7" height="69.7" fill="#e9eef7"/>
<rect x="1601.6" y="664.5" width="69.7" height="69.7" fill="#dbe2ef"/>
<rect x="1672.3" y="664.5" width="69.7" height="69.7" fill="#b8cae2"/>
<rect x="1743" y="664.5" width="69.7" height="69.7" fill="#7199c5"/>
<rect x="1813.7" y="664.5" width="69.7" height="69.7" fill="#d6e0ed"/>
<rect x="1884.4" y="664.5" width="69.7" height="69.7" fill="#4682b4"/>
<rect x="1955.1" y="664.5" width="69.7" height="69.7" fill="#ffffff"/>
<rect x="1530.9" y="593.8" width="69.7" height="69.7" fill="#fdfeff"/>
<rect x="1601.6" y="593.8" width="69.7" height="69.7" fill="#fdfeff"/>
<rect x="1672.3" y="593.8" width="69.7" height="69.7" fill="#ffffff"/>
<rect x="1743" y="593.8" width="69.7" height="69.7" fill="#f4f8fb"/>
<rect x="1813.7" y="593.8" width="69.7" height="69.7" fill="#dfe6f1"/>
<rect x="1884.4" y="593.8" width="69.7" height="69.7" fill="#ffffff"/>
<rect x="1955.1" y="593.8" width="69.7" height="69.7" fill="#4682b4"/>
<text x="1554.7" y="1063.9" font-size="22.9" fill="#ffffff" text-anchor="start">33</text>
<text x="1554.7" y="992.6" font-size="22.9" fill="#1c1c1c" text-anchor="start">23</text>
<text x="1626.38" y="992.6" font-size="22.9" fill="#ffffff" text-anchor="start">33</text>
<text x="1554.7" y="921.3" font-size="22.9" fill="#1c1c1c" text-anchor="start">21</text>
<text x="1626.38" y="921.3" font-size="22.9" fill="#1c1c1c" text-anchor="start">25</text>
<text x="1698.06" y="921.3" font-size="22.9" fill="#ffffff" text-anchor="start">30</text>
<text x="1554.7" y="850" font-size="22.9" fill="#1c1c1c" text-anchor="start">20</text>
<text x="1626.38" y="850" font-size="22.9" fill="#1c1c1c" text-anchor="start">22</text>
<text x="1698.06" y="850" font-size="22.9" fill="#1c1c1c" text-anchor="start">23</text>
<text x="1769.74" y="850" font-size="22.9" fill="#ffffff" text-anchor="start">30</text>
<text x="1554.7" y="778.7" font-size="22.9" fill="#1c1c1c" text-anchor="start">14</text>
<text x="1626.38" y="778.7" font-size="22.9" fill="#1c1c1c" text-anchor="start">17</text>
<text x="1698.06" y="778.7" font-size="22.9" fill="#1c1c1c" text-anchor="start">14</text>
<text x="1769.74" y="778.7" font-size="22.9" fill="#1c1c1c" text-anchor="start">18</text>
<text x="1841.42" y="778.7" font-size="22.9" fill="#ffffff" text-anchor="start">23</text>
<text x="1554.7" y="707.4" font-size="22.9" fill="#1c1c1c" text-anchor="start">17</text>
<text x="1626.38" y="707.4" font-size="22.9" fill="#1c1c1c" text-anchor="start">19</text>
<text x="1698.06" y="707.4" font-size="22.9" fill="#1c1c1c" text-anchor="start">21</text>
<text x="1769.74" y="707.4" font-size="22.9" fill="#1c1c1c" text-anchor="start">26</text>
<text x="1841.42" y="707.4" font-size="22.9" fill="#1c1c1c" text-anchor="start">16</text>
<text x="1913.1" y="707.4" font-size="22.9" fill="#ffffff" text-anchor="start">26</text>
<text x="1554.7" y="636.1" font-size="22.9" fill="#1c1c1c" text-anchor="start">13</text>
<text x="1626.38" y="636.1" font-size="22.9" fill="#1c1c1c" text-anchor="start">13</text>
<text x="1698.06" y="636.1" font-size="22.9" fill="#1c1c1c" text-anchor="start">12</text>
<text x="1769.74" y="636.1" font-size="22.9" fill="#1c1c1c" text-anchor="start">13</text>
<text x="1841.42" y="636.1" font-size="22.9" fill="#1c1c1c" text-anchor="start">13</text>
<text x="1913.1" y="636.1" font-size="22.9" fill="#1c1c1c" text-anchor="start">11</text>
<text x="1984.78" y="636.1" font-size="22.9" fill="#ffffff" text-anchor="start">19</text>
<text x="1503" y="1066" font-size="22.9" fill="#444444" text-anchor="end">50K</text>
<text x="1503" y="993.8" font-size="22.9" fill="#444444" text-anchor="end">100K</text>
<text x="1503" y="921.6" font-size="22.9" fill="#444444" text-anchor="end">200K</text>
<text x="1503" y="849.4" font-size="22.9" fill="#444444" text-anchor="end">500K</text>
<text x="1503" y="777.2" font-size="22.9" fill="#444444" text-anchor="end">S-PrediXcan</text>
<text x="1503" y="705" font-size="22.9" fill="#444444" text-anchor="end">EpiXcan</text>
<text x="1503" y="632.8" font-size="22.9" fill="#444444" text-anchor="end">Fusion</text>
<text x="0" y="0" transform="translate(1592.65 1117.3) rotate(-30)" font-size="22.9" fill="#444444" text-anchor="end">50K</text>
<text x="0" y="0" transform="translate(1667.05 1117.3) rotate(-30)" font-size="22.9" fill="#444444" text-anchor="end">100K</text>
<text x="0" y="0" transform="translate(1738.25 1117.3) rotate(-30)" font-size="22.9" fill="#444444" text-anchor="end">200K</text>
<text x="0" y="0" transform="translate(1807.95 1117.3) rotate(-30)" font-size="22.9" fill="#444444" text-anchor="end">500K</text>
<text x="0" y="0" transform="translate(1880.75 1117.3) rotate(-30)" font-size="22.9" fill="#444444" text-anchor="end">S-PrediXcan</text>
<text x="0" y="0" transform="translate(1959.75 1117.3) rotate(-30)" font-size="22.9" fill="#444444" text-anchor="end">EpiXcan</text>
<text x="0" y="0" transform="translate(2022.45 1117.3) rotate(-30)" font-size="22.9" fill="#444444" text-anchor="end">Fusion</text>
<text x="1769.8" y="575.1" font-size="22.9" fill="#222" text-anchor="middle">Lung cancer</text>
<rect x="97.8" y="1590.65" width="581.2" height="2.1" fill="#d1d1d1"/>
<rect x="97.8" y="1469.25" width="581.2" height="2.1" fill="#d1d1d1"/>
<rect x="97.8" y="1347.85" width="581.2" height="2.1" fill="#d1d1d1"/>
<rect x="97.8" y="1227.4" width="581.2" height="1.6" fill="#dadada"/>
<rect x="121.6" y="1276.06" width="48.5" height="316.24" fill="#d62828"/>
<rect x="202.4" y="1324.62" width="48.5" height="267.68" fill="#f47e20"/>
<rect x="283.2" y="1361.04" width="48.5" height="231.26" fill="#f9d030"/>
<rect x="364" y="1348.9" width="48.5" height="243.4" fill="#31a24b"/>
<rect x="444.8" y="1421.74" width="48.5" height="170.56" fill="#964b21"/>
<rect x="525.6" y="1470.3" width="48.5" height="122" fill="#828282"/>
<rect x="606.4" y="1421.74" width="48.5" height="170.56" fill="#575757"/>
<rect x="96.8" y="1226.5" width="2" height="366.2" fill="#111"/>
<rect x="92.3" y="1590.6" width="5.5" height="2.2" fill="#222"/>
<rect x="92.3" y="1469.2" width="5.5" height="2.2" fill="#222"/>
<rect x="92.3" y="1347.8" width="5.5" height="2.2" fill="#222"/>
<rect x="92.3" y="1226.4" width="5.5" height="2.2" fill="#222"/>
<text x="83.3" y="1596.5" font-size="22.4" fill="#1c1c1c" text-anchor="end">0</text>
<text x="83.3" y="1476.3" font-size="22.4" fill="#1c1c1c" text-anchor="end">10</text>
<text x="83.3" y="1355.4" font-size="22.4" fill="#1c1c1c" text-anchor="end">20</text>
<text x="83.3" y="1234" font-size="22.4" fill="#1c1c1c" text-anchor="end">30</text>
<text x="0" y="0" transform="translate(49.5 1413.4) rotate(-90)" font-size="27.4" fill="#1c1c1c" text-anchor="middle">Number of breast cancer genes</text>
<text x="388" y="1219" font-size="22.9" fill="#222" text-anchor="middle">Breast cancer</text>
<text x="0" y="0" transform="translate(162.75 1618) rotate(-29)" font-size="22.1" fill="#4a4a4a" text-anchor="end" font-style="italic" font-family="'DejaVu Sans Light','DejaVu Sans',sans-serif" stroke="#4a4a4a" stroke-width="0.45" textLength="40" lengthAdjust="spacingAndGlyphs">50K</text>
<text x="0" y="0" transform="translate(250.75 1618.6) rotate(-29)" font-size="22.1" fill="#4a4a4a" text-anchor="end" font-style="italic" font-family="'DejaVu Sans Light','DejaVu Sans',sans-serif" stroke="#4a4a4a" stroke-width="0.45" textLength="54.7" lengthAdjust="spacingAndGlyphs">100K</text>
<text x="0" y="0" transform="translate(331.55 1618.6) rotate(-29)" font-size="22.1" fill="#4a4a4a" text-anchor="end" font-style="italic" font-family="'DejaVu Sans Light','DejaVu Sans',sans-serif" stroke="#4a4a4a" stroke-width="0.45" textLength="54.7" lengthAdjust="spacingAndGlyphs">200K</text>
<text x="0" y="0" transform="translate(411.55 1618.5) rotate(-29)" font-size="22.1" fill="#4a4a4a" text-anchor="end" font-style="italic" font-family="'DejaVu Sans Light','DejaVu Sans',sans-serif" stroke="#4a4a4a" stroke-width="0.45" textLength="54.7" lengthAdjust="spacingAndGlyphs">500K</text>
<text x="0" y="0" transform="translate(516.05 1607) rotate(-29)" font-size="22.1" fill="#4a4a4a" text-anchor="end" font-style="italic" font-family="'DejaVu Sans Light','DejaVu Sans',sans-serif" stroke="#4a4a4a" stroke-width="0.45" textLength="137.2" lengthAdjust="spacingAndGlyphs">S-PrediXcan</text>
<text x="0" y="0" transform="translate(594.85 1618.5) rotate(-29)" font-size="22.1" fill="#4a4a4a" text-anchor="end" font-style="italic" font-family="'DejaVu Sans Light','DejaVu Sans',sans-serif" stroke="#4a4a4a" stroke-width="0.45" textLength="93.4" lengthAdjust="spacingAndGlyphs">EpiXcan</text>
<text x="0" y="0" transform="translate(663.25 1618.5) rotate(-29)" font-size="22.1" fill="#4a4a4a" text-anchor="end" font-style="italic" font-family="'DejaVu Sans Light','DejaVu Sans',sans-serif" stroke="#4a4a4a" stroke-width="0.45" textLength="69.6" lengthAdjust="spacingAndGlyphs">Fusion</text>
<rect x="785.6" y="1590.65" width="581.4" height="2.1" fill="#d1d1d1"/>
<rect x="785.6" y="1499.6" width="581.4" height="2.1" fill="#d1d1d1"/>
<rect x="785.6" y="1408.55" width="581.4" height="2.1" fill="#d1d1d1"/>
<rect x="785.6" y="1317.5" width="581.4" height="2.1" fill="#d1d1d1"/>
<rect x="785.6" y="1227.4" width="581.4" height="1.6" fill="#dadada"/>
<rect x="809.5" y="1341.31" width="48.5" height="250.99" fill="#d62828"/>
<rect x="890.3" y="1386.84" width="48.5" height="205.46" fill="#f47e20"/>
<rect x="971.1" y="1250.26" width="48.5" height="342.04" fill="#f9d030"/>
<rect x="1051.9" y="1318.55" width="48.5" height="273.75" fill="#31a24b"/>
<rect x="1132.7" y="1523.41" width="48.5" height="68.89" fill="#964b21"/>
<rect x="1213.5" y="1432.36" width="48.5" height="159.94" fill="#828282"/>
<rect x="1294.3" y="1477.89" width="48.5" height="114.41" fill="#575757"/>
<rect x="784.6" y="1226.5" width="2" height="366.2" fill="#111"/>
<rect x="780.1" y="1590.6" width="5.5" height="2.2" fill="#222"/>
<rect x="780.1" y="1499.55" width="5.5" height="2.2" fill="#222"/>
<rect x="780.1" y="1408.5" width="5.5" height="2.2" fill="#222"/>
<rect x="780.1" y="1317.45" width="5.5" height="2.2" fill="#222"/>
<rect x="780.1" y="1226.4" width="5.5" height="2.2" fill="#222"/>
<text x="768" y="1598.2" font-size="22.4" fill="#1c1c1c" text-anchor="end">0</text>
<text x="768" y="1507.15" font-size="22.4" fill="#1c1c1c" text-anchor="end">4</text>
<text x="768" y="1416.1" font-size="22.4" fill="#1c1c1c" text-anchor="end">8</text>
<text x="768" y="1325.05" font-size="22.4" fill="#1c1c1c" text-anchor="end">12</text>
<text x="768" y="1234" font-size="22.4" fill="#1c1c1c" text-anchor="end">16</text>
<text x="0" y="0" transform="translate(735 1422.8) rotate(-90)" font-size="27.4" fill="#1c1c1c" text-anchor="middle">Number of prostate cancer genes</text>
<text x="1089" y="1219" font-size="22.9" fill="#222" text-anchor="middle">Prostate cancer</text>
<text x="0" y="0" transform="translate(859.15 1618) rotate(-29)" font-size="22.1" fill="#4a4a4a" text-anchor="end" font-style="italic" font-family="'DejaVu Sans Light','DejaVu Sans',sans-serif" stroke="#4a4a4a" stroke-width="0.45" textLength="40" lengthAdjust="spacingAndGlyphs">50K</text>
<text x="0" y="0" transform="translate(947.15 1618.6) rotate(-29)" font-size="22.1" fill="#4a4a4a" text-anchor="end" font-style="italic" font-family="'DejaVu Sans Light','DejaVu Sans',sans-serif" stroke="#4a4a4a" stroke-width="0.45" textLength="54.7" lengthAdjust="spacingAndGlyphs">100K</text>
<text x="0" y="0" transform="translate(1027.95 1618.6) rotate(-29)" font-size="22.1" fill="#4a4a4a" text-anchor="end" font-style="italic" font-family="'DejaVu Sans Light','DejaVu Sans',sans-serif" stroke="#4a4a4a" stroke-width="0.45" textLength="54.7" lengthAdjust="spacingAndGlyphs">200K</text>
<text x="0" y="0" transform="translate(1107.95 1618.5) rotate(-29)" font-size="22.1" fill="#4a4a4a" text-anchor="end" font-style="italic" font-family="'DejaVu Sans Light','DejaVu Sans',sans-serif" stroke="#4a4a4a" stroke-width="0.45" textLength="54.7" lengthAdjust="spacingAndGlyphs">500K</text>
<text x="0" y="0" transform="translate(1212.45 1607) rotate(-29)" font-size="22.1" fill="#4a4a4a" text-anchor="end" font-style="italic" font-family="'DejaVu Sans Light','DejaVu Sans',sans-serif" stroke="#4a4a4a" stroke-width="0.45" textLength="137.2" lengthAdjust="spacingAndGlyphs">S-PrediXcan</text>
<text x="0" y="0" transform="translate(1291.25 1618.5) rotate(-29)" font-size="22.1" fill="#4a4a4a" text-anchor="end" font-style="italic" font-family="'DejaVu Sans Light','DejaVu Sans',sans-serif" stroke="#4a4a4a" stroke-width="0.45" textLength="93.4" lengthAdjust="spacingAndGlyphs">EpiXcan</text>
<text x="0" y="0" transform="translate(1359.65 1618.5) rotate(-29)" font-size="22.1" fill="#4a4a4a" text-anchor="end" font-style="italic" font-family="'DejaVu Sans Light','DejaVu Sans',sans-serif" stroke="#4a4a4a" stroke-width="0.45" textLength="69.6" lengthAdjust="spacingAndGlyphs">Fusion</text>
<rect x="1467.9" y="1590.65" width="582.1" height="2.1" fill="#d1d1d1"/>
<rect x="1467.9" y="1467.9" width="582.1" height="4.8" fill="#cfcfcf"/>
<rect x="1467.9" y="1346.5" width="582.1" height="4.8" fill="#cfcfcf"/>
<rect x="1467.9" y="1226.7" width="582.1" height="3" fill="#cfcfcf"/>
<rect x="1492.5" y="1348.9" width="48.5" height="243.4" fill="#d62828"/>
<rect x="1573.3" y="1300.34" width="48.5" height="291.96" fill="#f47e20"/>
<rect x="1654.1" y="1300.34" width="48.5" height="291.96" fill="#f9d030"/>
<rect x="1734.9" y="1276.06" width="48.5" height="316.24" fill="#31a24b"/>
<rect x="1815.7" y="1421.74" width="48.5" height="170.56" fill="#964b21"/>
<rect x="1896.5" y="1324.62" width="48.5" height="267.68" fill="#828282"/>
<rect x="1977.3" y="1421.74" width="48.5" height="170.56" fill="#575757"/>
<rect x="1466.9" y="1226.5" width="2" height="366.2" fill="#111"/>
<rect x="1463.1" y="1589.5" width="4.8" height="4.4" fill="#333"/>
<rect x="1463.1" y="1468.1" width="4.8" height="4.4" fill="#333"/>
<rect x="1463.1" y="1346.7" width="4.8" height="4.4" fill="#333"/>
<rect x="1463.1" y="1225.3" width="4.8" height="4.4" fill="#333"/>
<text x="1453.3" y="1600.4" font-size="22.4" fill="#1c1c1c" text-anchor="end">0</text>
<text x="1453.3" y="1479" font-size="22.4" fill="#1c1c1c" text-anchor="end">5</text>
<text x="1453.3" y="1357.6" font-size="22.4" fill="#1c1c1c" text-anchor="end">10</text>
<text x="1453.3" y="1236.2" font-size="22.4" fill="#1c1c1c" text-anchor="end">15</text>
<text x="0" y="0" transform="translate(1418 1400) rotate(-90)" font-size="27.4" fill="#1c1c1c" text-anchor="middle">Number of lung cancer genes</text>
<text x="1770" y="1219" font-size="22.9" fill="#222" text-anchor="middle">Lung cancer</text>
<text x="0" y="0" transform="translate(1533.65 1618) rotate(-29)" font-size="22.1" fill="#4a4a4a" text-anchor="end" font-style="italic" font-family="'DejaVu Sans Light','DejaVu Sans',sans-serif" stroke="#4a4a4a" stroke-width="0.45" textLength="40" lengthAdjust="spacingAndGlyphs">50K</text>
<text x="0" y="0" transform="translate(1621.65 1618.6) rotate(-29)" font-size="22.1" fill="#4a4a4a" text-anchor="end" font-style="italic" font-family="'DejaVu Sans Light','DejaVu Sans',sans-serif" stroke="#4a4a4a" stroke-width="0.45" textLength="54.7" lengthAdjust="spacingAndGlyphs">100K</text>
<text x="0" y="0" transform="translate(1702.45 1618.6) rotate(-29)" font-size="22.1" fill="#4a4a4a" text-anchor="end" font-style="italic" font-family="'DejaVu Sans Light','DejaVu Sans',sans-serif" stroke="#4a4a4a" stroke-width="0.45" textLength="54.7" lengthAdjust="spacingAndGlyphs">200K</text>
<text x="0" y="0" transform="translate(1782.45 1618.5) rotate(-29)" font-size="22.1" fill="#4a4a4a" text-anchor="end" font-style="italic" font-family="'DejaVu Sans Light','DejaVu Sans',sans-serif" stroke="#4a4a4a" stroke-width="0.45" textLength="54.7" lengthAdjust="spacingAndGlyphs">500K</text>
<text x="0" y="0" transform="translate(1886.95 1607) rotate(-29)" font-size="22.1" fill="#4a4a4a" text-anchor="end" font-style="italic" font-family="'DejaVu Sans Light','DejaVu Sans',sans-serif" stroke="#4a4a4a" stroke-width="0.45" textLength="137.2" lengthAdjust="spacingAndGlyphs">S-PrediXcan</text>
<text x="0" y="0" transform="translate(1965.75 1618.5) rotate(-29)" font-size="22.1" fill="#4a4a4a" text-anchor="end" font-style="italic" font-family="'DejaVu Sans Light','DejaVu Sans',sans-serif" stroke="#4a4a4a" stroke-width="0.45" textLength="93.4" lengthAdjust="spacingAndGlyphs">EpiXcan</text>
<text x="0" y="0" transform="translate(2034.15 1618.5) rotate(-29)" font-size="22.1" fill="#4a4a4a" text-anchor="end" font-style="italic" font-family="'DejaVu Sans Light','DejaVu Sans',sans-serif" stroke="#4a4a4a" stroke-width="0.45" textLength="69.6" lengthAdjust="spacingAndGlyphs">Fusion</text>
<rect x="97.8" y="2083.25" width="581.2" height="2.1" fill="#d1d1d1"/>
<rect x="97.8" y="1978.85" width="581.2" height="2.1" fill="#d1d1d1"/>
<rect x="97.8" y="1874.45" width="581.2" height="2.1" fill="#d1d1d1"/>
<rect x="97.8" y="1770.05" width="581.2" height="2.1" fill="#d1d1d1"/>
<rect x="121.6" y="1761.7" width="48.5" height="323.2" fill="#d62828"/>
<rect x="202.4" y="1834.78" width="48.5" height="250.12" fill="#f47e20"/>
<rect x="283.2" y="1816.51" width="48.5" height="268.39" fill="#f9d030"/>
<rect x="364" y="1823.46" width="48.5" height="261.44" fill="#31a24b"/>
<rect x="444.8" y="1869.24" width="48.5" height="215.66" fill="#964b21"/>
<rect x="525.6" y="1847.31" width="48.5" height="237.59" fill="#828282"/>
<rect x="606.4" y="1803.46" width="48.5" height="281.44" fill="#575757"/>
<rect x="96.8" y="1719.7" width="2" height="365.6" fill="#111"/>
<rect x="92.3" y="2083.2" width="5.5" height="2.2" fill="#222"/>
<rect x="92.3" y="1978.8" width="5.5" height="2.2" fill="#222"/>
<rect x="92.3" y="1874.4" width="5.5" height="2.2" fill="#222"/>
<rect x="92.3" y="1770" width="5.5" height="2.2" fill="#222"/>
<text x="82.6" y="2084.4" font-size="22.4" fill="#1c1c1c" text-anchor="end">0.0</text>
<text x="82.6" y="1980.8" font-size="22.4" fill="#1c1c1c" text-anchor="end">0.2</text>
<text x="82.6" y="1878" font-size="22.4" fill="#1c1c1c" text-anchor="end">0.4</text>
<text x="82.6" y="1773.6" font-size="22.4" fill="#1c1c1c" text-anchor="end">0.6</text>
<text x="0" y="0" transform="translate(35 1885.4) rotate(-90)" font-size="27.4" fill="#1c1c1c" text-anchor="middle">Successes&#160; rate</text>
<text x="388" y="1727" font-size="22.9" fill="#222" text-anchor="middle">Breast cancer</text>
<text x="0" y="0" transform="translate(159.75 2102.1) rotate(-29)" font-size="22.1" fill="#4a4a4a" text-anchor="end" font-style="italic" font-family="'DejaVu Sans Light','DejaVu Sans',sans-serif" stroke="#4a4a4a" stroke-width="0.45" textLength="40" lengthAdjust="spacingAndGlyphs">50K</text>
<text x="0" y="0" transform="translate(247.75 2102.7) rotate(-29)" font-size="22.1" fill="#4a4a4a" text-anchor="end" font-style="italic" font-family="'DejaVu Sans Light','DejaVu Sans',sans-serif" stroke="#4a4a4a" stroke-width="0.45" textLength="54.7" lengthAdjust="spacingAndGlyphs">100K</text>
<text x="0" y="0" transform="translate(328.55 2102.7) rotate(-29)" font-size="22.1" fill="#4a4a4a" text-anchor="end" font-style="italic" font-family="'DejaVu Sans Light','DejaVu Sans',sans-serif" stroke="#4a4a4a" stroke-width="0.45" textLength="54.7" lengthAdjust="spacingAndGlyphs">200K</text>
<text x="0" y="0" transform="translate(408.55 2102.6) rotate(-29)" font-size="22.1" fill="#4a4a4a" text-anchor="end" font-style="italic" font-family="'DejaVu Sans Light','DejaVu Sans',sans-serif" stroke="#4a4a4a" stroke-width="0.45" textLength="54.7" lengthAdjust="spacingAndGlyphs">500K</text>
<text x="0" y="0" transform="translate(513.05 2096.2) rotate(-29)" font-size="22.1" fill="#4a4a4a" text-anchor="end" font-style="italic" font-family="'DejaVu Sans Light','DejaVu Sans',sans-serif" stroke="#4a4a4a" stroke-width="0.45" textLength="137.2" lengthAdjust="spacingAndGlyphs">S-PrediXcan</text>
<text x="0" y="0" transform="translate(591.85 2102.6) rotate(-29)" font-size="22.1" fill="#4a4a4a" text-anchor="end" font-style="italic" font-family="'DejaVu Sans Light','DejaVu Sans',sans-serif" stroke="#4a4a4a" stroke-width="0.45" textLength="93.4" lengthAdjust="spacingAndGlyphs">EpiXcan</text>
<text x="0" y="0" transform="translate(660.25 2102.6) rotate(-29)" font-size="22.1" fill="#4a4a4a" text-anchor="end" font-style="italic" font-family="'DejaVu Sans Light','DejaVu Sans',sans-serif" stroke="#4a4a4a" stroke-width="0.45" textLength="69.6" lengthAdjust="spacingAndGlyphs">Fusion</text>
<rect x="783.4" y="2083.25" width="581.6" height="2.1" fill="#d1d1d1"/>
<rect x="783.4" y="2010.19" width="581.6" height="2.1" fill="#d1d1d1"/>
<rect x="783.4" y="1937.13" width="581.6" height="2.1" fill="#d1d1d1"/>
<rect x="783.4" y="1864.07" width="581.6" height="2.1" fill="#d1d1d1"/>
<rect x="783.4" y="1791.01" width="581.6" height="2.1" fill="#d1d1d1"/>
<rect x="783.4" y="1718.9" width="581.6" height="1.6" fill="#dadada"/>
<rect x="807.2" y="1888.06" width="48.5" height="196.84" fill="#d62828"/>
<rect x="888" y="1920.13" width="48.5" height="164.77" fill="#f47e20"/>
<rect x="968.8" y="1761.89" width="48.5" height="323.01" fill="#f9d030"/>
<rect x="1049.6" y="1847.37" width="48.5" height="237.53" fill="#31a24b"/>
<rect x="1130.4" y="1771.24" width="48.5" height="313.66" fill="#964b21"/>
<rect x="1211.2" y="1871.26" width="48.5" height="213.64" fill="#828282"/>
<rect x="1292" y="1881.7" width="48.5" height="203.2" fill="#575757"/>
<rect x="782.4" y="1718" width="2" height="367.3" fill="#111"/>
<rect x="777.9" y="2083.2" width="5.5" height="2.2" fill="#222"/>
<rect x="777.9" y="2010.14" width="5.5" height="2.2" fill="#222"/>
<rect x="777.9" y="1937.08" width="5.5" height="2.2" fill="#222"/>
<rect x="777.9" y="1864.02" width="5.5" height="2.2" fill="#222"/>
<rect x="777.9" y="1790.96" width="5.5" height="2.2" fill="#222"/>
<rect x="777.9" y="1717.9" width="5.5" height="2.2" fill="#222"/>
<text x="768" y="2086.3" font-size="22.4" fill="#1c1c1c" text-anchor="end">0.0</text>
<text x="768" y="2015.34" font-size="22.4" fill="#1c1c1c" text-anchor="end">0.1</text>
<text x="768" y="1942.68" font-size="22.4" fill="#1c1c1c" text-anchor="end">0.2</text>
<text x="768" y="1869.62" font-size="22.4" fill="#1c1c1c" text-anchor="end">0.3</text>
<text x="768" y="1796.56" font-size="22.4" fill="#1c1c1c" text-anchor="end">0.4</text>
<text x="768" y="1723.5" font-size="22.4" fill="#1c1c1c" text-anchor="end">0.5</text>
<text x="0" y="0" transform="translate(724 1888.7) rotate(-90)" font-size="27.4" fill="#1c1c1c" text-anchor="middle" word-spacing="4.3">Successes rate</text>
<text x="1089" y="1727" font-size="22.9" fill="#222" text-anchor="middle">Prostate cancer</text>
<text x="0" y="0" transform="translate(856.35 2102.1) rotate(-29)" font-size="22.1" fill="#4a4a4a" text-anchor="end" font-style="italic" font-family="'DejaVu Sans Light','DejaVu Sans',sans-serif" stroke="#4a4a4a" stroke-width="0.45" textLength="40" lengthAdjust="spacingAndGlyphs">50K</text>
<text x="0" y="0" transform="translate(944.35 2102.7) rotate(-29)" font-size="22.1" fill="#4a4a4a" text-anchor="end" font-style="italic" font-family="'DejaVu Sans Light','DejaVu Sans',sans-serif" stroke="#4a4a4a" stroke-width="0.45" textLength="54.7" lengthAdjust="spacingAndGlyphs">100K</text>
<text x="0" y="0" transform="translate(1025.15 2102.7) rotate(-29)" font-size="22.1" fill="#4a4a4a" text-anchor="end" font-style="italic" font-family="'DejaVu Sans Light','DejaVu Sans',sans-serif" stroke="#4a4a4a" stroke-width="0.45" textLength="54.7" lengthAdjust="spacingAndGlyphs">200K</text>
<text x="0" y="0" transform="translate(1105.15 2102.6) rotate(-29)" font-size="22.1" fill="#4a4a4a" text-anchor="end" font-style="italic" font-family="'DejaVu Sans Light','DejaVu Sans',sans-serif" stroke="#4a4a4a" stroke-width="0.45" textLength="54.7" lengthAdjust="spacingAndGlyphs">500K</text>
<text x="0" y="0" transform="translate(1207.65 2095.6) rotate(-29)" font-size="22.1" fill="#4a4a4a" text-anchor="end" font-style="italic" font-family="'DejaVu Sans Light','DejaVu Sans',sans-serif" stroke="#4a4a4a" stroke-width="0.45" textLength="137.2" lengthAdjust="spacingAndGlyphs">S-PrediXcan</text>
<text x="0" y="0" transform="translate(1288.45 2102.6) rotate(-29)" font-size="22.1" fill="#4a4a4a" text-anchor="end" font-style="italic" font-family="'DejaVu Sans Light','DejaVu Sans',sans-serif" stroke="#4a4a4a" stroke-width="0.45" textLength="93.4" lengthAdjust="spacingAndGlyphs">EpiXcan</text>
<text x="0" y="0" transform="translate(1356.85 2102.6) rotate(-29)" font-size="22.1" fill="#4a4a4a" text-anchor="end" font-style="italic" font-family="'DejaVu Sans Light','DejaVu Sans',sans-serif" stroke="#4a4a4a" stroke-width="0.45" textLength="69.6" lengthAdjust="spacingAndGlyphs">Fusion</text>
<rect x="1468.3" y="2083.25" width="581.7" height="2.1" fill="#d1d1d1"/>
<rect x="1468.3" y="2010.19" width="581.7" height="2.1" fill="#d1d1d1"/>
<rect x="1468.3" y="1937.13" width="581.7" height="2.1" fill="#d1d1d1"/>
<rect x="1468.3" y="1864.07" width="581.7" height="2.1" fill="#d1d1d1"/>
<rect x="1468.3" y="1791.01" width="581.7" height="2.1" fill="#d1d1d1"/>
<rect x="1468.3" y="1718.9" width="581.7" height="1.6" fill="#dadada"/>
<rect x="1492.5" y="1813.98" width="48.5" height="270.92" fill="#d62828"/>
<rect x="1573.3" y="1759.64" width="48.5" height="325.26" fill="#f47e20"/>
<rect x="1654.1" y="1734.07" width="48.5" height="350.83" fill="#f9d030"/>
<rect x="1734.9" y="1732.7" width="48.5" height="352.2" fill="#31a24b"/>
<rect x="1815.7" y="1828.59" width="48.5" height="256.31" fill="#964b21"/>
<rect x="1896.5" y="1734.98" width="48.5" height="349.92" fill="#828282"/>
<rect x="1977.3" y="1743.66" width="48.5" height="341.24" fill="#575757"/>
<rect x="1467.3" y="1718" width="2" height="367.3" fill="#111"/>
<rect x="1462.8" y="2083.2" width="5.5" height="2.2" fill="#222"/>
<rect x="1462.8" y="2010.14" width="5.5" height="2.2" fill="#222"/>
<rect x="1462.8" y="1937.08" width="5.5" height="2.2" fill="#222"/>
<rect x="1462.8" y="1864.02" width="5.5" height="2.2" fill="#222"/>
<rect x="1462.8" y="1790.96" width="5.5" height="2.2" fill="#222"/>
<rect x="1462.8" y="1717.9" width="5.5" height="2.2" fill="#222"/>
<text x="1454.5" y="2084.31" font-size="22.4" fill="#1c1c1c" text-anchor="end">0.0</text>
<text x="1454.5" y="1994.01" font-size="22.4" fill="#1c1c1c" text-anchor="end">0.2</text>
<text x="1454.5" y="1904.94" font-size="22.4" fill="#1c1c1c" text-anchor="end">0.4</text>
<text x="1454.5" y="1814.27" font-size="22.4" fill="#1c1c1c" text-anchor="end">0.6</text>
<text x="1454.5" y="1722.32" font-size="22.4" fill="#1c1c1c" text-anchor="end">0.8</text>
<text x="0" y="0" transform="translate(1412 1887.4) rotate(-90)" font-size="27.4" fill="#1c1c1c" text-anchor="middle">Successes rate</text>
<text x="1770" y="1726" font-size="22.9" fill="#222" text-anchor="middle">Lung cancer</text>
<text x="0" y="0" transform="translate(1533.65 2102.1) rotate(-29)" font-size="22.1" fill="#4a4a4a" text-anchor="end" font-style="italic" font-family="'DejaVu Sans Light','DejaVu Sans',sans-serif" stroke="#4a4a4a" stroke-width="0.45" textLength="40" lengthAdjust="spacingAndGlyphs">50K</text>
<text x="0" y="0" transform="translate(1621.65 2102.7) rotate(-29)" font-size="22.1" fill="#4a4a4a" text-anchor="end" font-style="italic" font-family="'DejaVu Sans Light','DejaVu Sans',sans-serif" stroke="#4a4a4a" stroke-width="0.45" textLength="54.7" lengthAdjust="spacingAndGlyphs">100K</text>
<text x="0" y="0" transform="translate(1702.45 2102.7) rotate(-29)" font-size="22.1" fill="#4a4a4a" text-anchor="end" font-style="italic" font-family="'DejaVu Sans Light','DejaVu Sans',sans-serif" stroke="#4a4a4a" stroke-width="0.45" textLength="54.7" lengthAdjust="spacingAndGlyphs">200K</text>
<text x="0" y="0" transform="translate(1782.45 2102.6) rotate(-29)" font-size="22.1" fill="#4a4a4a" text-anchor="end" font-style="italic" font-family="'DejaVu Sans Light','DejaVu Sans',sans-serif" stroke="#4a4a4a" stroke-width="0.45" textLength="54.7" lengthAdjust="spacingAndGlyphs">500K</text>
<text x="0" y="0" transform="translate(1887.65 2098.9) rotate(-29)" font-size="22.1" fill="#4a4a4a" text-anchor="end" font-style="italic" font-family="'DejaVu Sans Light','DejaVu Sans',sans-serif" stroke="#4a4a4a" stroke-width="0.45" textLength="137.2" lengthAdjust="spacingAndGlyphs">S-PrediXcan</text>
<text x="0" y="0" transform="translate(1965.75 2102.6) rotate(-29)" font-size="22.1" fill="#4a4a4a" text-anchor="end" font-style="italic" font-family="'DejaVu Sans Light','DejaVu Sans',sans-serif" stroke="#4a4a4a" stroke-width="0.45" textLength="93.4" lengthAdjust="spacingAndGlyphs">EpiXcan</text>
<text x="0" y="0" transform="translate(2034.15 2102.6) rotate(-29)" font-size="22.1" fill="#4a4a4a" text-anchor="end" font-style="italic" font-family="'DejaVu Sans Light','DejaVu Sans',sans-serif" stroke="#4a4a4a" stroke-width="0.45" textLength="69.6" lengthAdjust="spacingAndGlyphs">Fusion</text>
</svg>
</body></html>
